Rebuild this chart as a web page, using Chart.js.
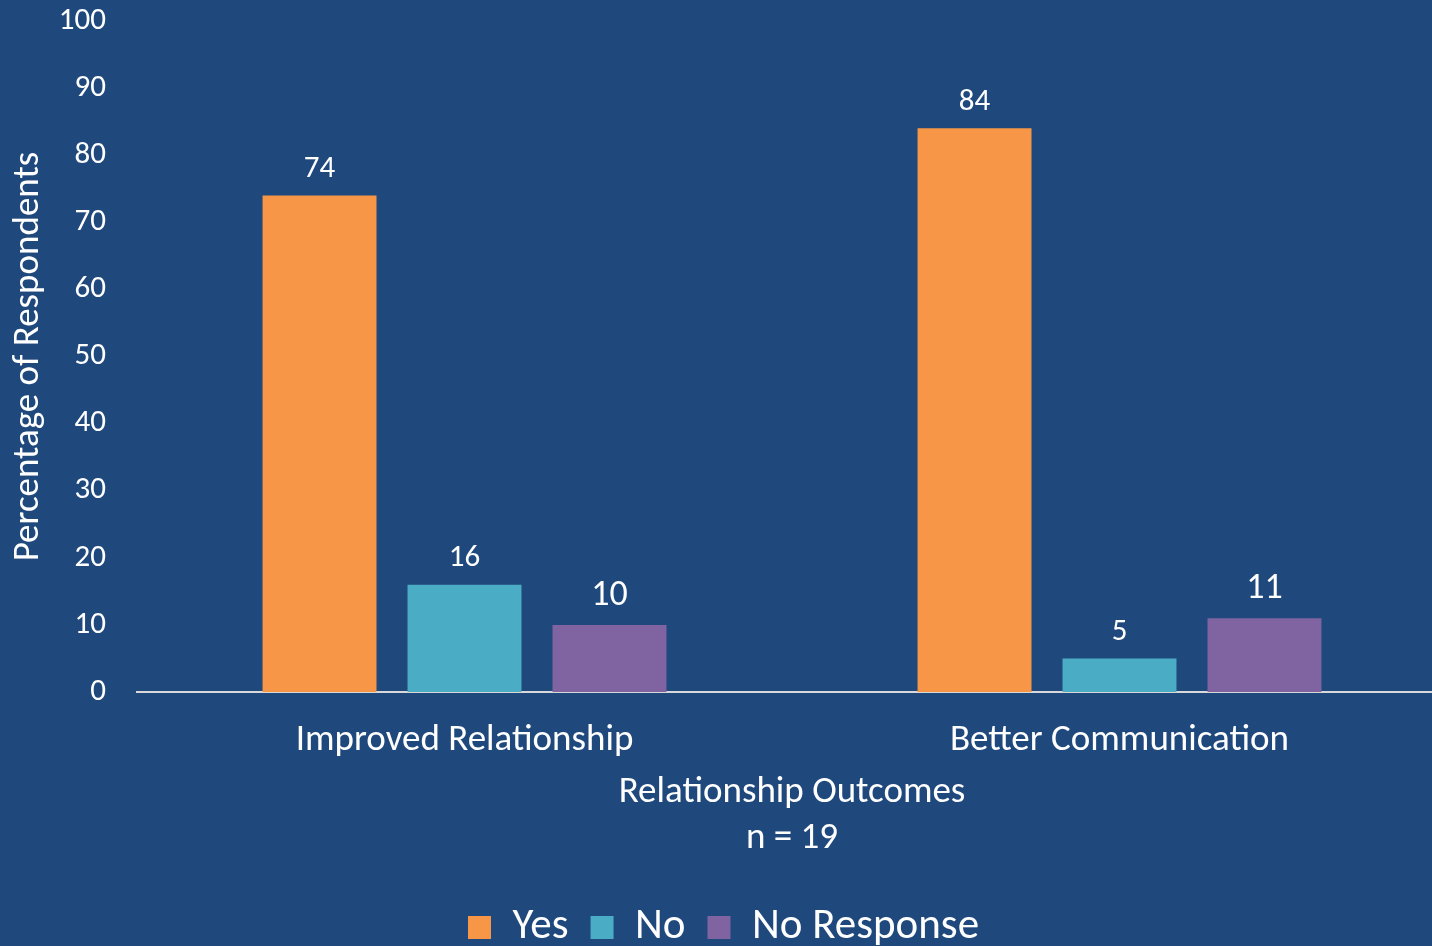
<!DOCTYPE html>
<html>
<head>
<meta charset="utf-8">
<script src="https://cdn.jsdelivr.net/npm/chart.js@4/dist/chart.umd.min.js"></script>
<style>
    html, body { margin: 0; padding: 0; background: #1f497d; overflow: hidden; }
    .frame { width: 1432px; height: 946px; overflow: hidden; position: relative; }
    .box { width: 1450px; height: 959px; position: absolute; left: 0; top: 0; }
</style>
</head>
<body>
<div class="frame">
    <div class="box"><canvas id="outcomeChart"></canvas></div>
</div>
<script>
    // data
    const categories = ['Improved Relationship', 'Better Communication'];
    const seriesNames = ['Yes', 'No', 'No Response'];
    const yesValues = [74, 84];
    const noValues = [16, 5];
    const noResponseValues = [10, 11];
    const yTicks = [0, 10, 20, 30, 40, 50, 60, 70, 80, 90, 100];

    const FONT = 'Carlito, Lato, sans-serif';
    const colors = ['#f79646', '#4bacc6', '#8064a2'];
    const labelSizes = [31, 31, 36];

    // value labels above each bar
    const barValues = {
        id: 'barValues',
        afterDatasetsDraw(chart) {
            const ctx = chart.ctx;
            ctx.save();
            ctx.fillStyle = '#ffffff';
            ctx.textAlign = 'center';
            ctx.textBaseline = 'bottom';
            chart.data.datasets.forEach((ds, i) => {
                ctx.font = labelSizes[i] + 'px ' + FONT;
                chart.getDatasetMeta(i).data.forEach((bar, j) => {
                    ctx.fillText(ds.data[j], bar.x, bar.y - 11);
                });
            });
            ctx.restore();
        }
    };

    new Chart(document.getElementById('outcomeChart'), {
        type: 'bar',
        data: {
            labels: categories,
            datasets: [yesValues, noValues, noResponseValues].map((vals, i) => ({
                label: seriesNames[i],
                data: vals,
                backgroundColor: colors[i],
                borderWidth: 0,
                categoryPercentage: 0.664,
                barPercentage: 0.786,
            }))
        },
        options: {
            responsive: true,
            maintainAspectRatio: false,
            animation: false,
            layout: { padding: { top: 21, right: 3, left: 0, bottom: 0 } },
            plugins: {
                tooltip: { enabled: false },
                legend: {
                    position: 'bottom',
                    labels: {
                        color: '#ffffff',
                        font: { family: FONT, size: 43 },
                        boxWidth: 23,
                        boxHeight: 23,
                        padding: 22,
                    }
                }
            },
            scales: {
                x: {
                    grid: { display: false, drawTicks: false },
                    border: { display: true, color: '#d9d9d9', width: 2 },
                    ticks: { color: '#ffffff', font: { family: FONT, size: 37 }, padding: 27, maxRotation: 0 },
                    title: {
                        display: true,
                        text: ['Relationship Outcomes', 'n = 19'],
                        color: '#ffffff',
                        font: { family: FONT, size: 37, lineHeight: 1.243 },
                        padding: { top: 0, bottom: 22 },
                    },
                    afterFit(scale) { scale.height = 192; }
                },
                y: {
                    min: 0,
                    max: 100,
                    grid: { display: false, drawTicks: false },
                    border: { display: false },
                    afterBuildTicks(scale) { scale.ticks = yTicks.map(v => ({ value: v })); },
                    ticks: { color: '#ffffff', font: { family: FONT, size: 31 }, padding: 31 },
                    title: {
                        display: true,
                        text: 'Percentage of Respondents',
                        color: '#ffffff',
                        font: { family: FONT, size: 37 },
                        padding: { top: 7, bottom: 0 },
                    },
                    afterFit(scale) {
                        scale.width = 137;
                        scale.paddingTop = 0;
                        scale.paddingBottom = 0;
                    }
                }
            }
        },
        plugins: [barValues]
    });
</script>
</body>
</html>
